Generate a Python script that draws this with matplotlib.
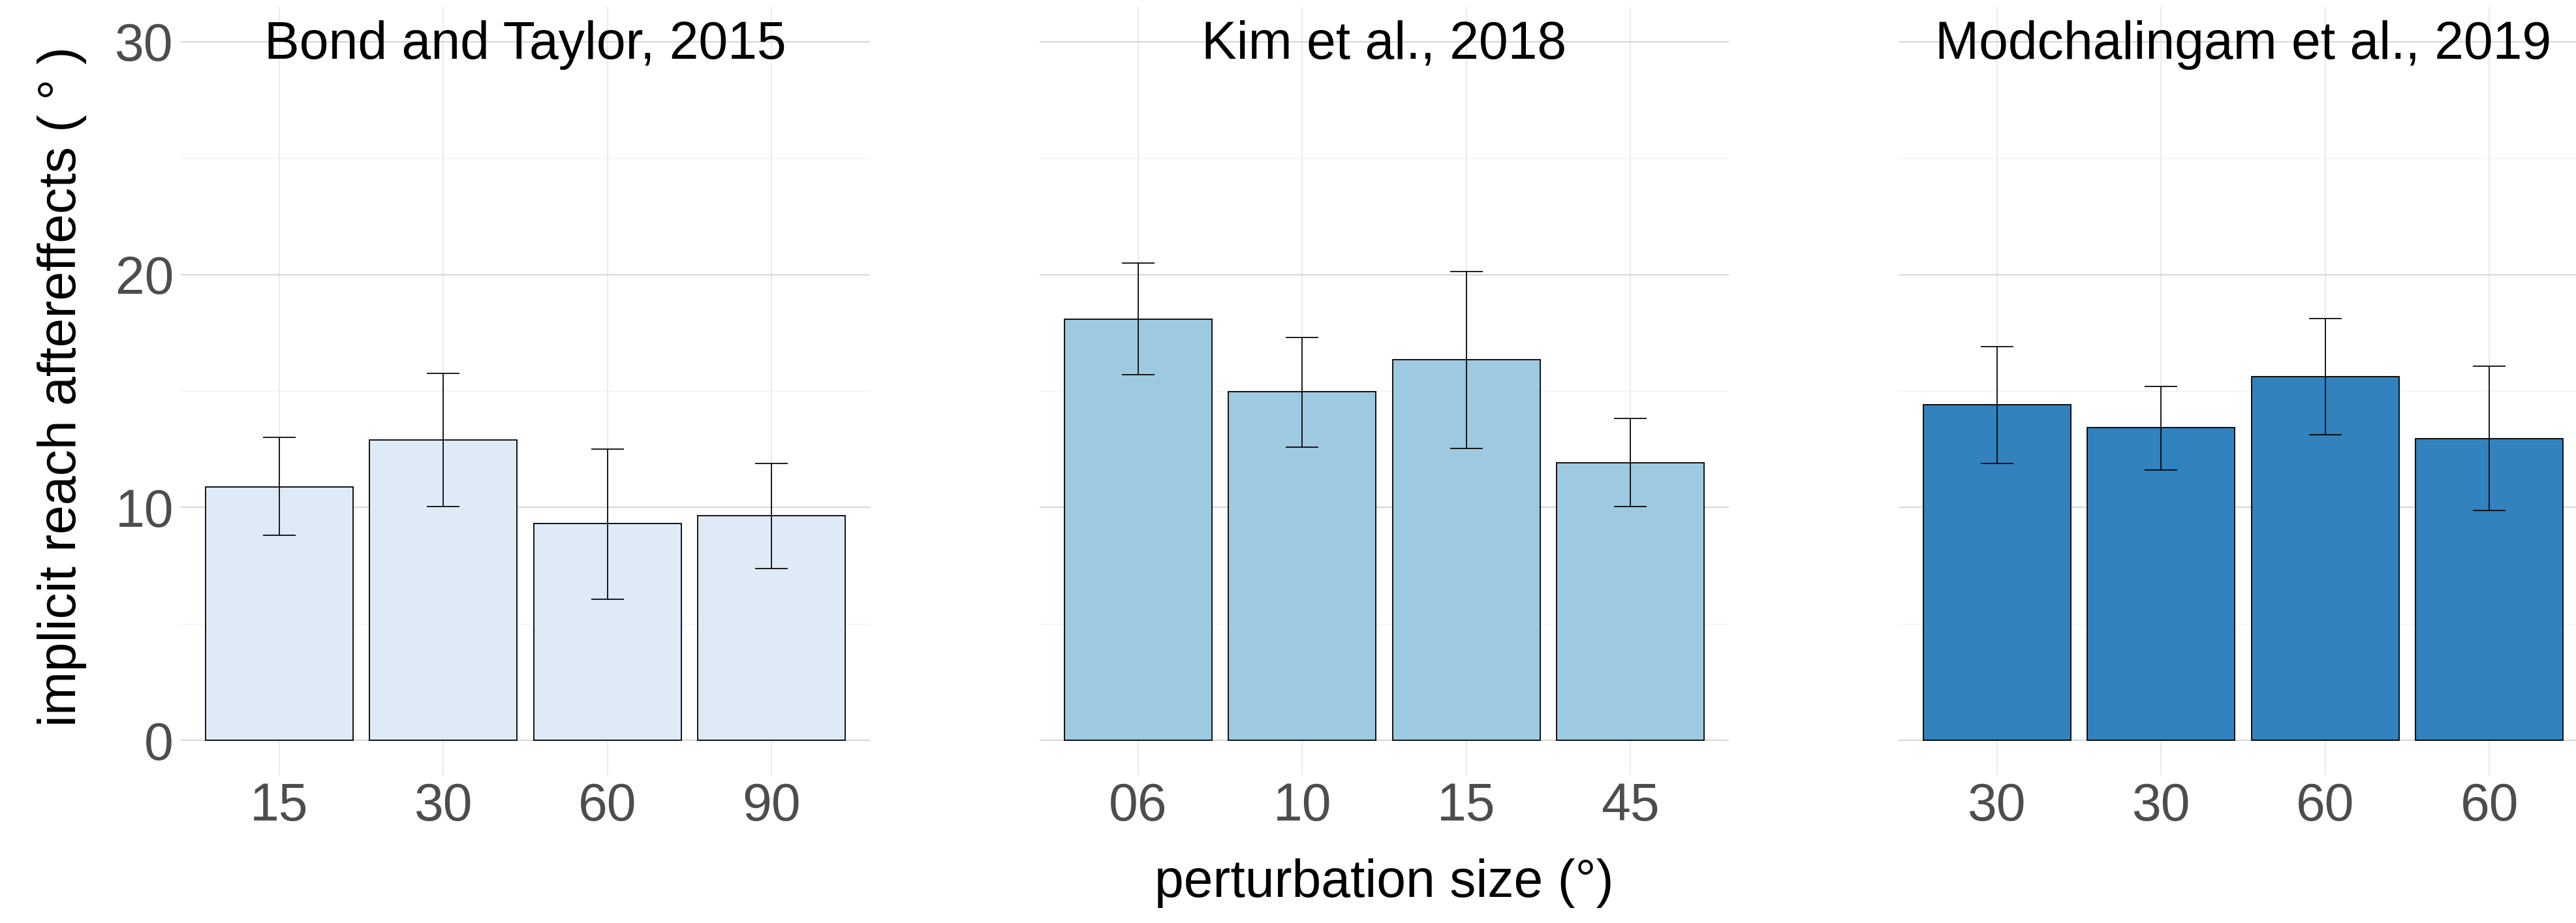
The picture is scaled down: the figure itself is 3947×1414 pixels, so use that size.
import matplotlib
matplotlib.use("Agg")
import matplotlib.pyplot as plt
import numpy as np

plt.rcParams['font.family'] = ['Liberation Sans', 'DejaVu Sans']

# ---- data ----
titles = ["Bond and Taylor, 2015", "Kim et al., 2018", "Modchalingam et al., 2019"]
bond_labels = ["15", "30", "60", "90"]
bond_mean = [10.89, 12.91, 9.30, 9.65]
bond_lo = [8.80, 10.03, 6.07, 7.38]
bond_hi = [13.00, 15.77, 12.51, 11.90]

kim_labels = ["06", "10", "15", "45"]
kim_mean = [18.09, 14.96, 16.35, 11.93]
kim_lo = [15.69, 12.59, 12.53, 10.03]
kim_hi = [20.50, 17.29, 20.14, 13.82]

mod_labels = ["30", "30", "60", "60"]
mod_mean = [14.40, 13.42, 15.62, 12.96]
mod_lo = [11.90, 11.60, 13.12, 9.88]
mod_hi = [16.91, 15.21, 18.12, 16.07]

colors = ["#DEEBF7", "#9ECAE1", "#3182BD"]
y_ticks = [0, 10, 20, 30]
y_minor = [5, 15, 25]

panels = [
    (bond_labels, bond_mean, bond_lo, bond_hi),
    (kim_labels, kim_mean, kim_lo, kim_hi),
    (mod_labels, mod_mean, mod_lo, mod_hi),
]

W, H = 3947, 1414
DPI = 100
fig = plt.figure(figsize=(W / DPI, H / DPI), dpi=DPI)
FS = 58
TICK_COL = "#4D4D4D"

ax_w = 1056
ax_left = [277, 1593, 2909]
ax_bottom_px = 1188
ax_top_px = 10

for i, (labels, mean, lo, hi) in enumerate(panels):
    ax = fig.add_axes([ax_left[i] / W, (H - ax_bottom_px) / H,
                       ax_w / W, (ax_bottom_px - ax_top_px) / H])
    x = np.arange(1, len(labels) + 1)
    ax.set_xlim(0.4, len(labels) + 0.6)
    ax.set_ylim(-1.5, 31.5)
    # grid
    for yv in y_minor:
        ax.axhline(yv, color="#F2F2F2", lw=0.95, zorder=0)
    for xv in x:
        ax.axvline(xv, color="#EBEBEB", lw=1.45, zorder=0)
    for yv in y_ticks:
        ax.axhline(yv, color="#D6D6D6", lw=1.45, zorder=0.5)
    # bars
    ax.bar(x, mean, width=0.9, color=colors[i], edgecolor="black",
           linewidth=1.3, zorder=2)
    # error bars
    ax.vlines(x, lo, hi, color="black", lw=1.25, zorder=3)
    ax.hlines(lo, x - 0.1, x + 0.1, color="black", lw=1.25, zorder=3)
    ax.hlines(hi, x - 0.1, x + 0.1, color="black", lw=1.25, zorder=3)
    # title inside panel
    ax.text((len(labels) + 1) / 2, 29.27, titles[i], ha="center", va="baseline",
            fontsize=FS, color="black", zorder=4)
    ax.set_xticks(x)
    ax.set_xticklabels(labels)
    ax.set_yticks(y_ticks)
    if i == 0:
        ax.set_yticklabels([str(v) for v in y_ticks])
    else:
        ax.set_yticklabels([])
    ax.tick_params(axis="x", length=0, pad=7.0, labelsize=FS, labelcolor=TICK_COL)
    ax.tick_params(axis="y", length=0, pad=8, labelsize=FS, labelcolor=TICK_COL)
    for s in ax.spines.values():
        s.set_visible(False)
    ax.set_facecolor("none")

fig.text(116 / W, 1 - 592 / H, "implicit reach aftereffects ( ° )", rotation=90,
         rotation_mode="anchor", ha="center", va="baseline", fontsize=FS,
         color="black")
fig.text((ax_left[1] + ax_w / 2) / W, 1 - 1374 / H, "perturbation size (°)",
         ha="center", va="baseline", fontsize=FS, color="black")

fig.savefig("out.png", dpi=DPI, facecolor="white")
